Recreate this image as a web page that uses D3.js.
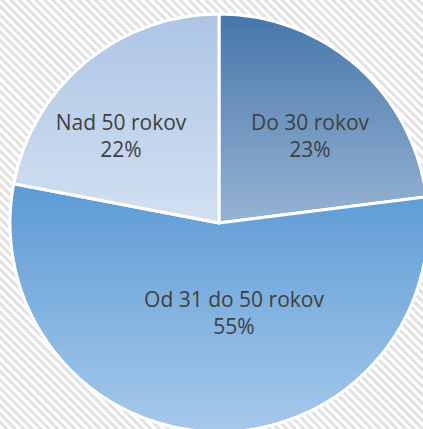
<!DOCTYPE html>
<html lang="sk">
    <head>
        <meta charset="utf-8">
        <script type="text/javascript" src="https://cdn.jsdelivr.net/npm/d3@7"></script>
        <title>Vek</title>
        <style type="text/css">
            body { margin: 0; padding: 0; background: #fff; }
            svg { display: block; }
        </style>
    </head>
    <body>
        <script type="text/javascript">
            var w = 423;
            var h = 429;

            // data
            var categories = ["Do 30 rokov", "Od 31 do 50 rokov", "Nad 50 rokov"];
            var shares = [23, 55, 22];
            var percentLabels = ["23%", "55%", "22%"];

            // gradient colours per slice (top, bottom)
            var topColors = ["#4677ab", "#5b9bd5", "#adc5e5"];
            var bottomColors = ["#96b3d3", "#a6c9ea", "#d2e0f1"];

            var cx = 219, cy = 223, r = 209;

            var svg = d3.select("body")
                        .append("svg")
                        .attr("width", w)
                        .attr("height", h);

            var defs = svg.append("defs");

            // hatched background
            var pat = defs.append("pattern")
                .attr("id", "hatch")
                .attr("patternUnits", "userSpaceOnUse")
                .attr("width", 6)
                .attr("height", 6)
                .attr("patternTransform", "rotate(-45)");
            pat.append("rect").attr("width", 6).attr("height", 6).attr("fill", "#ffffff");
            pat.append("rect").attr("width", 3).attr("height", 6).attr("fill", "#e2e2e2");

            svg.append("rect")
                .attr("width", w)
                .attr("height", h)
                .attr("fill", "url(#hatch)");

            categories.forEach(function(c, i){
                var g = defs.append("linearGradient")
                    .attr("id", "grad" + i)
                    .attr("x1", 0).attr("y1", 0)
                    .attr("x2", 0).attr("y2", 1);
                g.append("stop").attr("offset", "0%").attr("stop-color", topColors[i]);
                g.append("stop").attr("offset", "100%").attr("stop-color", bottomColors[i]);
            });

            var pie = d3.pie().sort(null).value(function(d){ return d; });
            var arcs = pie(shares);

            var arc = d3.arc().innerRadius(0).outerRadius(r);

            var chart = svg.append("g")
                .attr("transform", "translate(" + cx + "," + cy + ")");

            chart.selectAll("path")
                .data(arcs)
                .enter()
                .append("path")
                .attr("d", arc)
                .attr("fill", function(d, i){ return "url(#grad" + i + ")"; })
                .attr("stroke", "#ffffff")
                .attr("stroke-width", 3)
                .attr("stroke-linejoin", "round");

            // label placement: centroid on a label arc plus small best-fit nudges
            var labelArc = d3.arc().innerRadius(0).outerRadius(2 * 127);
            var nudge = [[7, 6], [19, -39], [-17, 9]];

            var labels = chart.selectAll("g.label")
                .data(arcs)
                .enter()
                .append("g")
                .attr("class", "label")
                .attr("transform", function(d, i){
                    var c = labelArc.centroid(d);
                    return "translate(" + (c[0] + nudge[i][0]) + "," + (c[1] + nudge[i][1]) + ")";
                })
                .attr("font-family", "'Open Sans', sans-serif")
                .attr("font-size", "21px")
                .attr("fill", "#404040")
                .attr("text-anchor", "middle");

            labels.append("text")
                .attr("y", -4)
                .text(function(d, i){ return categories[i]; });

            labels.append("text")
                .attr("y", 23)
                .text(function(d, i){ return percentLabels[i]; });
        </script>
    </body>
</html>
